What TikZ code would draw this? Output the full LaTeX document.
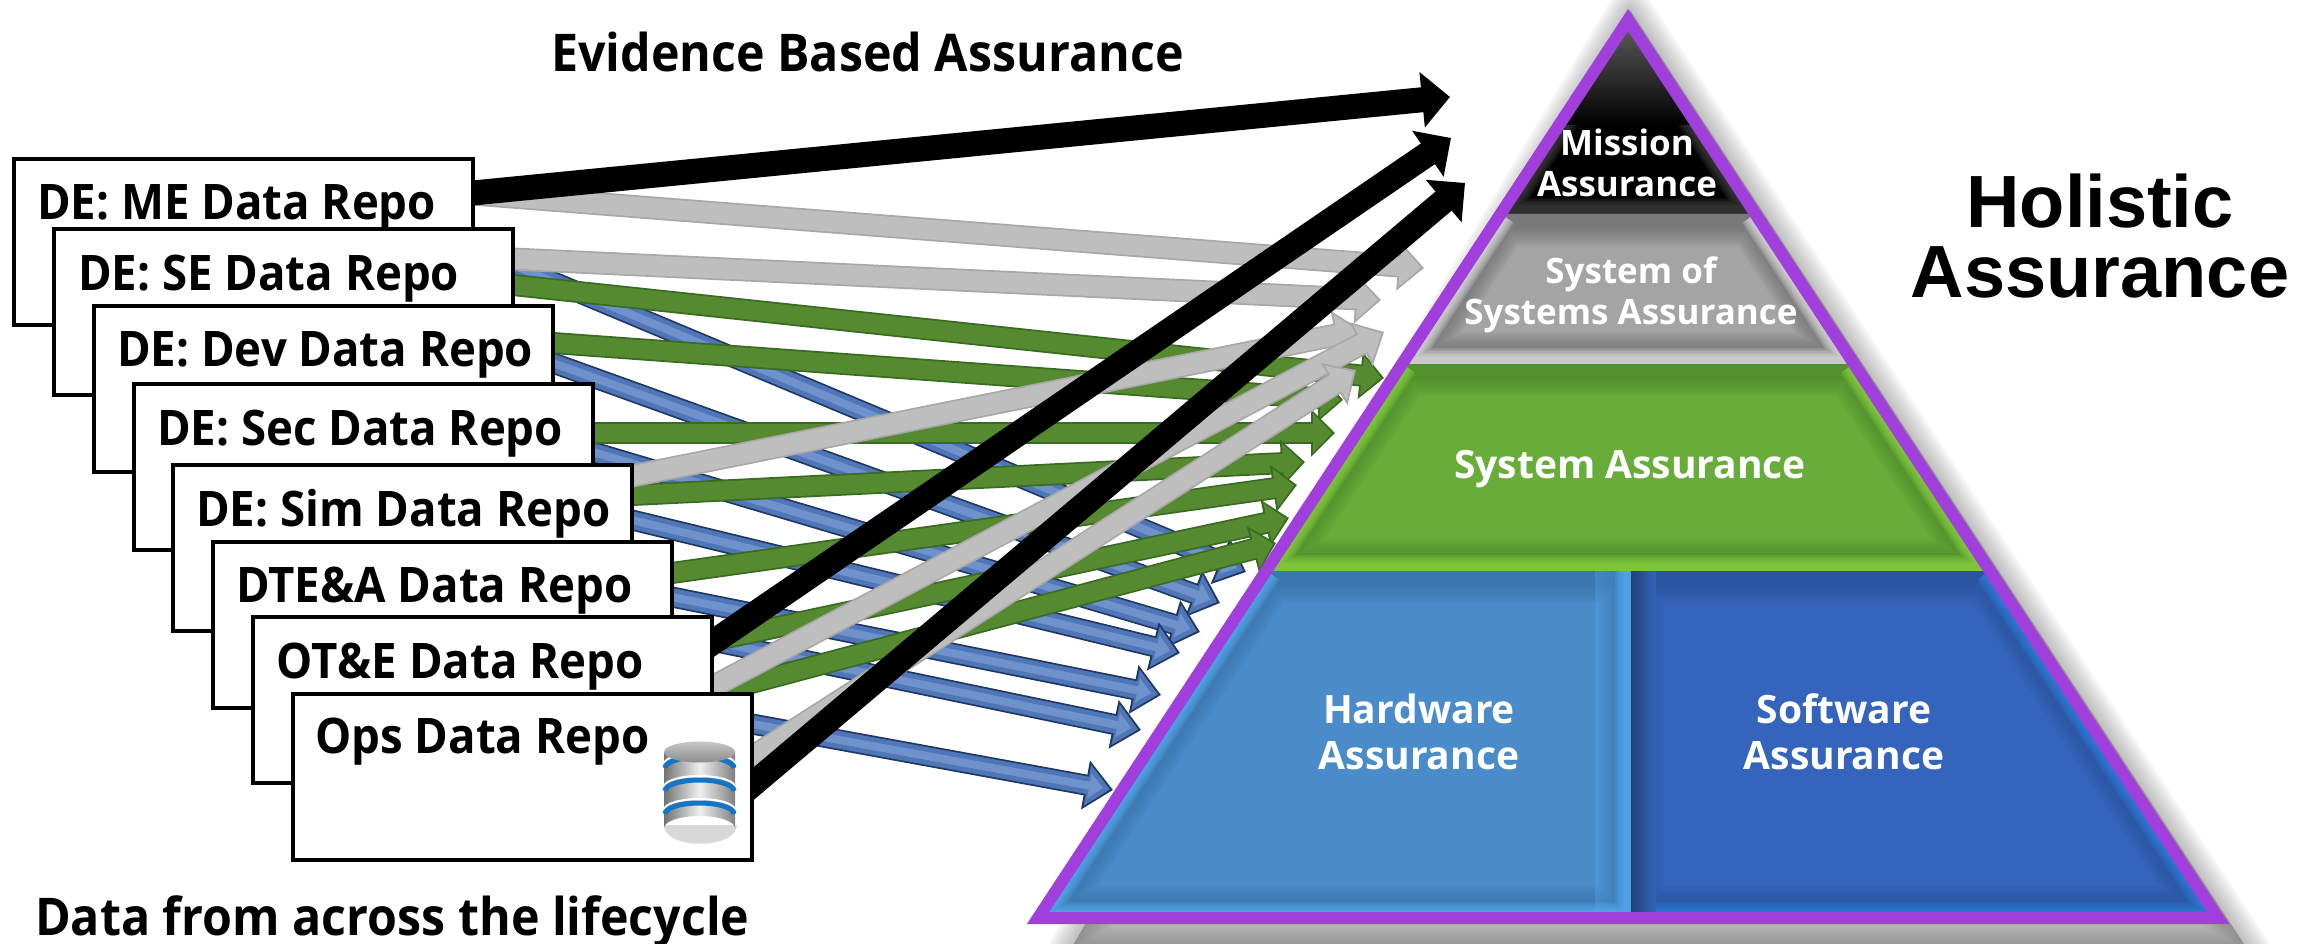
\documentclass[tikz,border=0pt]{standalone}
\usepackage{fontspec}
\setmainfont{Open Sans}
\newfontfamily\narrowbold[FakeStretch=0.93]{Open Sans}
\newfontfamily\arialish{Liberation Sans}
\usetikzlibrary{arrows.meta,calc,backgrounds,fadings}
\definecolor{pur}{HTML}{A03FDC}
\definecolor{blueEdge}{HTML}{1F3864}
\definecolor{blueBody}{HTML}{4F76B6}
\definecolor{blueCore}{HTML}{7092CC}
\definecolor{greenEdge}{HTML}{3A6B22}
\definecolor{greenBody}{HTML}{558A30}
\definecolor{grayEdge}{HTML}{A8A8A8}
\definecolor{grayBody}{HTML}{BEBEBE}
\definecolor{tierGreen}{HTML}{68AC39}
\definecolor{tierGreenD}{HTML}{4C8A2C}
\definecolor{tierGreenL}{HTML}{8AD440}
\definecolor{tierGray}{HTML}{A4A4A4}
\definecolor{tierGrayD}{HTML}{6A6A6A}
\definecolor{tierGrayL}{HTML}{E2E2E2}
\definecolor{tierHw}{HTML}{4A8BCA}
\definecolor{tierHwD}{HTML}{3A72A8}
\definecolor{tierHwL}{HTML}{56ADF2}
\definecolor{tierSw}{HTML}{3464BC}
\definecolor{tierSwD}{HTML}{2A5298}
\definecolor{tierSwL}{HTML}{2F80DC}
\tikzset{
  repo/.style={draw=black,line width=4pt,fill=white,minimum width=459pt,minimum height=166pt,inner sep=0pt,outer sep=0pt},
  repolabel/.style={anchor=base west,inner sep=0pt,font=\narrowbold\bfseries\fontsize{49}{50}\selectfont},
  headline/.style={anchor=base west,inner sep=0pt,font=\narrowbold\bfseries\fontsize{52}{54}\selectfont},
  pyr/.style={text=white,align=center,inner sep=0pt,font=\bfseries\fontsize{39}{46}\selectfont},
  pyrsmall/.style={text=white,align=center,inner sep=0pt,font=\bfseries\fontsize{35}{41}\selectfont},
  holistic/.style={align=center,inner sep=0pt,font=\arialish\bfseries\fontsize{74}{70}\selectfont}
}
% one arrow: from, to, edge colour, body colour, shaft width, head width, head length
\newcommand\flowline[7]{%
  \draw[#3,line width=#5pt,shorten <=-15pt,-{Triangle[length=#7pt,width=#6pt]}] (#1) -- (#2);
  \draw[#4,line width=#5pt-3.5pt,shorten <=-15pt,shorten >=3pt,-{Triangle[length=#7pt-5pt,width=#6pt-8pt]}] (#1) -- (#2);
}
\newcommand\blueflow[2]{%
  \flowline{#1}{#2}{blueEdge}{blueBody}{21}{48}{28}%
  \draw[blueCore,line width=8pt,shorten <=-15pt,shorten >=10pt,-{Triangle[length=14pt,width=24pt]}] (#1) -- (#2);
}
\newcommand\greenflow[2]{\flowline{#1}{#2}{greenEdge}{greenBody}{22}{46}{24}}
\newcommand\grayflow[2]{\flowline{#1}{#2}{grayEdge}{grayBody}{23}{48}{26}}
\newcommand\blackflow[2]{\draw[black,line width=25pt,shorten <=-15pt,-{Triangle[length=28pt,width=54pt]}] (#1) -- (#2);}
% one bevelled tier of the pyramid
\newcommand\bevel[7]{%
  \begin{scope}
    \clip (#1)--(#2)--(#3)--(#4)--cycle;
    \fill[#5] (#1)--(#2)--(#3)--(#4)--cycle;
    \foreach \w in {24,28,...,64}{\draw[#6,opacity=.1,line width=\w pt] (#1)--(#2)--(#3)--(#4)--cycle;}
    \foreach \w in {14,17,...,32}{\draw[#7,opacity=.2,line width=\w pt] (#1)--(#4)--(#3)--(#2);}
  \end{scope}%
}
\begin{document}
\begin{tikzpicture}[x=1pt,y=-1pt]
\useasboundingbox (0,0) rectangle (2318,944);
\clip (0,0) rectangle (2318,944);

% repositories
\node[repo] (b1) at (243.5,242) {};
\node[repo] (b2) at (283.5,312) {};
\node[repo] (b3) at (323.5,388.5) {};
\node[repo] (b4) at (363.5,467) {};
\node[repo] (b5) at (402.5,548) {};
\node[repo] (b6) at (442.5,624.5) {};
\node[repo] (b7) at (482.5,700) {};
\node[repo] (b8) at (522.5,776.5) {};
\node[repolabel] (t1) at ($(b1.north west)+(23,61)$) {DE: ME Data Repo};
\node[repolabel] (t2) at ($(b2.north west)+(24,61)$) {DE: SE Data Repo};
\node[repolabel] (t3) at ($(b3.north west)+(23,61)$) {DE: Dev Data Repo};
\node[repolabel] (t4) at ($(b4.north west)+(23,61)$) {DE: Sec Data Repo};
\node[repolabel] (t5) at ($(b5.north west)+(23,61)$) {DE: Sim Data Repo};
\node[repolabel] (t6) at ($(b6.north west)+(23,61)$) {DTE\&A Data Repo};
\node[repolabel] (t7) at ($(b7.north west)+(23,61)$) {OT\&E Data Repo};
\node[repolabel] (t8) at ($(b8.north west)+(22,60)$) {Ops Data Repo};

% free ends of the arrows
\coordinate (eK1) at (1450,97);   \coordinate (eK2) at (1451,138);  \coordinate (eK3) at (1465,183);
\coordinate (eG1) at (1424,268);  \coordinate (eG2) at (1381,300);  \coordinate (eG3) at (1361,330);
\coordinate (eG4) at (1384,332);  \coordinate (eG5) at (1356,370);
\coordinate (eV1) at (1384,378);  \coordinate (eV2) at (1343,400);  \coordinate (eV3) at (1335,433);
\coordinate (eV4) at (1305,462);  \coordinate (eV5) at (1297,485);  \coordinate (eV6) at (1289,518);
\coordinate (eV7) at (1276,543);
\coordinate (eB2) at (1246,572);  \coordinate (eB3) at (1220,603);  \coordinate (eB4) at (1200,632);
\coordinate (eB5) at (1180,653);  \coordinate (eB6) at (1161,695);  \coordinate (eB7) at (1141,730);
\coordinate (eB8) at (1113,790);

\begin{pgfonlayer}{background}
  % pyramid shadow
  \fill[black!30] (1630,10)--(2248,950)--(1070,950)--cycle;
  \foreach \w in {4,8,...,44}{\draw[black!55,opacity=.05,line width=\w pt,line join=round] (1630,10)--(2248,950)--(1070,950)--cycle;}
  % blue
  \blueflow{$(b2.east)+(0,-47)$}{eB2}
  \blueflow{$(b3.east)+(0,-25.5)$}{eB3}
  \blueflow{$(b4.east)+(0,-15)$}{eB4}
  \blueflow{$(b5.east)+(0,-28)$}{eB5}
  \blueflow{$(b6.east)+(0,-27.5)$}{eB6}
  \blueflow{$(b7.east)+(0,-59)$}{eB7}
  \blueflow{$(b8.east)+(0,-52.5)$}{eB8}
  % green
  \greenflow{$(b2.east)+(0,-27)$}{eV1}
  \greenflow{$(b3.east)+(0,-45.5)$}{eV2}
  \greenflow{$(b4.east)+(0,-34)$}{eV3}
  \greenflow{$(b5.east)+(0,-53)$}{eV4}
  \greenflow{$(b6.east)+(0,-51.5)$}{eV5}
  \greenflow{$(b7.east)+(0,-59)$}{eV6}
  \greenflow{$(b8.north east)+(-40,0)$}{eV7}
  % gray
  \grayflow{$(b1.east)+(0,-48)$}{eG1}
  \grayflow{$(b2.east)+(0,-53)$}{eG2}
  \grayflow{$(b5.east)+(0,-72)$}{eG3}
  \grayflow{$(b7.east)+(0,-13)$}{eG4}
  \grayflow{$(b8.east)+(0,-19.5)$}{eG5}
  % black
  \blackflow{$(b1.east)+(0,-49)$}{eK1}
  \blackflow{$(b7.east)+(0,-57)$}{eK2}
  \blackflow{$(b8.east)+(0,8.5)$}{eK3}
\end{pgfonlayer}

% pyramid tiers
\bevel{1628,20}{1628,20}{1755.5,214}{1500.5,214}{black}{black}{black!75}
\begin{scope}
  \clip (1628,20)--(1755.5,214)--(1500.5,214)--cycle;
  \shade[top color=black!62,bottom color=black] (1480,20) rectangle (1780,125);
\end{scope}
\bevel{1500.5,214}{1755.5,214}{1854,364}{1402,364}{tierGray}{tierGrayD}{tierGrayL}
\bevel{1402,364}{1854,364}{1990,571}{1266,571}{tierGreen}{tierGreenD}{tierGreenL}
\bevel{1266,571}{1631,571}{1631,918}{1038,918}{tierHw}{tierHwD}{tierHwL}
\bevel{1631,571}{1990,571}{2218,918}{1631,918}{tierSw}{tierSwD}{tierSwL}
\fill[tierHwL,opacity=.3,path fading=east] (1595,571) rectangle (1631,912);
\shade[left color=tierSwD!80!black,right color=tierSw] (1631,571) rectangle (1656,912);
\draw[pur,line width=12pt,line join=miter] (1628,20)--(2218,918)--(1038,918)--cycle;

% labels in the pyramid
\node[pyrsmall] (tMission) at (1627,163) {Mission\\Assurance};
\node[pyrsmall] (tSoS) at (1631,295) {System of\\Systems Assurance};
\node[pyr] (tSys) at (1630,469) {System Assurance};
\node[pyr] (tHw) at (1419,732) {Hardware\\Assurance};
\node[pyr] (tSw) at (1844,732) {Software\\Assurance};

% headings
\node[headline] (hEv) at (551,72) {Evidence Based Assurance};
\node[headline] (hData) at (35,935) {Data from across the lifecycle};
\node[holistic] (hHol) at (2100,236) {Holistic\\Assurance};

% database icon
\begin{scope}
  \fill[black!30,opacity=.5] (664,825) .. controls (664,850) and (736,850) .. (737,825) -- cycle;
  \shade[left color=black!55,right color=black!50,middle color=black!6] (664,752) -- (664,828) arc[start angle=180,end angle=360,x radius=35.5,y radius=12] -- (735,752) -- cycle;
  \foreach \y in {763,786,809}{
    \draw[white,line width=2pt] (664,\y+1) arc[start angle=180,end angle=360,x radius=35.5,y radius=11];
    \draw[cyan!55!blue,line width=5pt] (665,\y+5) arc[start angle=180,end angle=360,x radius=34.5,y radius=11];
  }
  \shade[top color=black!22,bottom color=black!45] (699.5,752) ellipse[x radius=35.5,y radius=10.5];
\end{scope}
\end{tikzpicture}
\end{document}
